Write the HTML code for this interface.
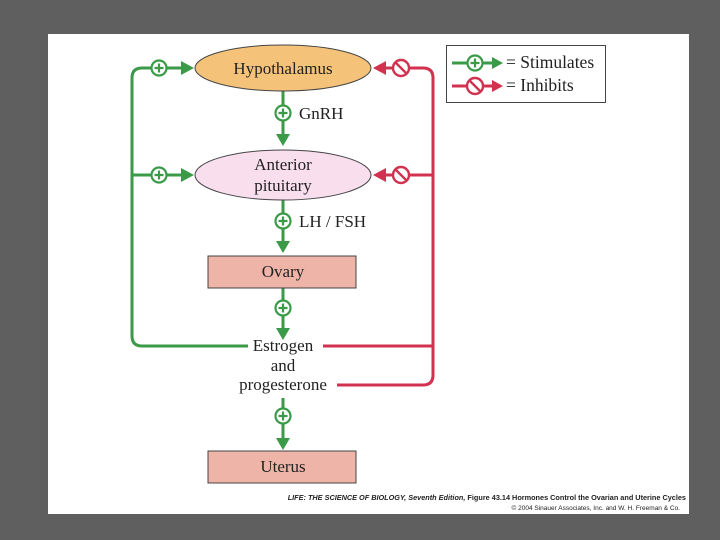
<!DOCTYPE html>
<html><head><meta charset="utf-8"><style>
body{margin:0;background:#5f5f5f;width:720px;height:540px;overflow:hidden}
svg{position:absolute;left:0;top:0}
text{font-family:"Liberation Serif",serif;fill:#222}
</style></head><body>
<svg width="720" height="540" viewBox="0 0 720 540">
<rect x="0" y="0" width="720" height="540" fill="#5f5f5f"/>
<rect x="48" y="34" width="641" height="480" fill="#fff"/>
<defs>
<g id="plus"><circle r="7.5" fill="#fff" stroke="#3a9a48" stroke-width="2.2"/><path d="M-4.5 0H4.5M0 -4.5V4.5" stroke="#3a9a48" stroke-width="2.2"/></g>
<g id="no"><circle r="8" fill="#fff" stroke="#d2314f" stroke-width="2.4"/><path d="M-5.5 -5.5L5.5 5.5" stroke="#d2314f" stroke-width="2.4"/></g>
</defs>
<g fill="none" stroke="#3a9a48" stroke-width="3">
<path d="M248 346H142Q132 346 132 336V78Q132 68 142 68H182"/>
<path d="M132 175H182"/>
<path d="M283 91V136M283 200V243M283 288V330M283 398V440"/>
</g>
<g fill="#3a9a48">
<path d="M181 61L194 68L181 75Z"/><path d="M181 168L194 175L181 182Z"/>
<path d="M276 134L283 146L290 134Z"/><path d="M276 241L283 253L290 241Z"/>
<path d="M276 328L283 340L290 328Z"/><path d="M276 438L283 450L290 438Z"/>
</g>
<g fill="none" stroke="#d2314f" stroke-width="3">
<path d="M323 346H433M337 385H423Q433 385 433 375V78Q433 68 423 68H384M433 175H384"/>
</g>
<g fill="#d2314f"><path d="M386 61L373 68L386 75Z"/><path d="M386 168L373 175L386 182Z"/></g>
<use href="#plus" x="159" y="68"/><use href="#plus" x="159" y="175"/>
<use href="#plus" x="283" y="113"/><use href="#plus" x="283" y="221"/>
<use href="#plus" x="283" y="308"/><use href="#plus" x="283" y="416"/>
<use href="#no" x="401" y="68"/><use href="#no" x="401" y="175"/>
<ellipse cx="283" cy="68" rx="88" ry="23" fill="#f5c27a" stroke="#444" stroke-width="1"/>
<ellipse cx="283" cy="175" rx="88" ry="25" fill="#f9deee" stroke="#444" stroke-width="1"/>
<rect x="208" y="256" width="148" height="32" fill="#efb4a8" stroke="#444" stroke-width="1"/>
<rect x="208" y="451" width="148" height="32" fill="#efb4a8" stroke="#444" stroke-width="1"/>
<g font-size="17" text-anchor="middle">
<text x="283" y="74">Hypothalamus</text>
<text x="283" y="170">Anterior</text><text x="283" y="191">pituitary</text>
<text x="283" y="277">Ovary</text>
<text x="283" y="351">Estrogen</text><text x="283" y="371">and</text><text x="283" y="390">progesterone</text>
<text x="283" y="472">Uterus</text>
</g>
<g font-size="17"><text x="299" y="119">GnRH</text><text x="299" y="227">LH / FSH</text></g>
<rect x="446.5" y="45.5" width="159" height="57" fill="#fff" stroke="#444" stroke-width="1"/>
<path d="M452 63H467M483 63H493" stroke="#3a9a48" stroke-width="3"/>
<path d="M492 57L503 63L492 69Z" fill="#3a9a48"/>
<use href="#plus" x="475" y="63"/>
<path d="M452 86H466M484 86H493" stroke="#d2314f" stroke-width="3"/>
<path d="M492 80L503 86L492 92Z" fill="#d2314f"/>
<use href="#no" x="475" y="86"/>
<g font-size="17.5"><text x="506" y="68">= Stimulates</text><text x="506" y="91">= Inhibits</text></g>
<text x="686" y="500" font-size="7.3" text-anchor="end" style="font-family:'Liberation Sans',sans-serif;font-weight:bold"><tspan font-style="italic">LIFE: THE SCIENCE OF BIOLOGY, Seventh Edition,</tspan> Figure 43.14 Hormones Control the Ovarian and Uterine Cycles</text>
<text x="680" y="510" font-size="6.5" text-anchor="end" style="font-family:'Liberation Sans',sans-serif" fill="#555">© 2004 Sinauer Associates, Inc. and W. H. Freeman &amp; Co.</text>
</svg>
</body></html>
